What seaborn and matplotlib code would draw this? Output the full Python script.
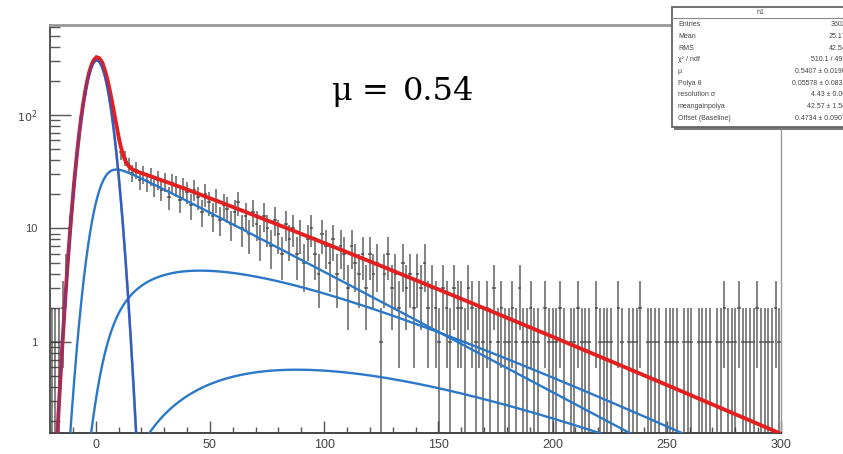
import math
import numpy as np
import pandas as pd
import matplotlib
matplotlib.use("Agg")
import matplotlib.pyplot as plt
import matplotlib.ticker as mticker
from matplotlib.patches import Rectangle
import seaborn as sns

# ---- histogram: 200 bins of width 1.6 from -20 to 300 ----
bin_lo, bin_hi, n_bins = -20.0, 300.0, 200
counts = [
    1, 1, 1, 2, 4, 10, 25, 50, 95, 152,
    223, 283, 318, 310, 282, 213, 152, 101, 70, 47,
    42, 36, 31, 33, 27, 30, 26, 29, 24, 27,
    22, 26, 19, 25, 24, 18, 23, 21, 16, 22,
    19, 14, 20, 17, 13, 18, 12, 16, 15, 11,
    14, 17, 10, 13, 9, 14, 11, 8, 13, 10,
    7, 12, 9, 6, 11, 8, 10, 6, 9, 5,
    8, 10, 6, 4, 9, 7, 5, 8, 4, 7,
    6, 3, 7, 5, 4, 6, 3, 6, 4, 5,
    1, 4, 6, 3, 4, 2, 5, 3, 4, 2,
    4, 3, 5, 2, 3, 2, 1, 3, 2, 1,
    3, 2, 2, 1, 3, 2, 1, 2, 1, 2,
    1, 3, 1, 2, 1, 1, 2, 1, 3, 1,
    1, 2, 1, 1, 0, 2, 1, 1, 1, 2,
    1, 0, 1, 1, 2, 1, 1, 1, 0, 2,
    1, 1, 1, 1, 0, 2, 1, 0, 1, 1,
    1, 2, 0, 1, 1, 1, 1, 0, 1, 1,
    1, 1, 0, 1, 1, 1, 0, 1, 1, 1,
    1, 0, 1, 1, 2, 1, 1, 1, 2, 1,
    1, 1, 1, 2, 1, 1, 1, 1, 2, 1,
]

# ---- fit parameters (single-photoelectron response) ----
fit_entries = 3602
fit_mu = 0.5407
fit_theta = 0.05578
fit_sigma = 4.43
fit_gain = 42.57
fit_offset = 0.4734

stat_labels = ["Entries", "Mean", "RMS", "\u03c7\u00b2 / ndf", "\u03bc", "Polya \u03b8",
               "resolution \u03c3", "meangainpolya", "Offset (Baseline)"]
stat_values = ["3602", "25.17", "42.54", "510.1 / 495", "0.5407 \u00b1 0.0190",
               "0.05578 \u00b1 0.0831", "4.43 \u00b1 0.06", "42.57 \u00b1 1.54",
               "0.4734 \u00b1 0.0907"]

x_ticks = [0, 50, 100, 150, 200, 250, 300]
y_ticks = [1, 10, 100]
y_tick_labels = ["1", "10", "$10^{2}$"]
annotation_parts = ["\u03bc", "=", "0.54"]

RED = "#e3201f"
BLUE = "#2b78c8"
PED = "#3a45b8"
HIST = "#3a3a3a"

# ---- build the fit curves ----
bw = (bin_hi - bin_lo) / n_bins
edges = np.linspace(bin_lo, bin_hi, n_bins + 1)
centers = 0.5 * (edges[:-1] + edges[1:])
cnt = np.asarray(counts, dtype=float)

du = 0.05
u = np.arange(-80.0, 420.0, du)
kern_u = np.arange(-30.0, 30.0 + du, du)
kernel = np.exp(-0.5 * (kern_u / fit_sigma) ** 2) / (fit_sigma * np.sqrt(2 * np.pi))


def poisson(n):
    return math.exp(-fit_mu) * fit_mu ** n / math.factorial(n)


def npe_shape(n, xs):
    """Polya (gamma) n-photoelectron term smeared by the resolution."""
    if n == 0:
        return np.exp(-0.5 * ((xs - fit_offset) / fit_sigma) ** 2) / (fit_sigma * np.sqrt(2 * np.pi))
    k = n * (1 + fit_theta)
    scale = fit_gain / (1 + fit_theta)
    g = np.zeros_like(u)
    pos = u > 0
    g[pos] = np.exp((k - 1) * np.log(u[pos]) - u[pos] / scale - math.lgamma(k) - k * math.log(scale))
    sm = np.convolve(g, kernel, mode="same") * du
    return np.interp(xs - fit_offset, u, sm)


xs = np.linspace(bin_lo, bin_hi, 1601)
comps = {n: fit_entries * bw * poisson(n) * npe_shape(n, xs) for n in range(0, 8)}
total = sum(comps.values())

rows = []
for name, yv in [("total", total), ("0", comps[0]), ("1", comps[1]), ("2", comps[2]), ("3", comps[3])]:
    yv = np.where(yv > 1e-9, yv, np.nan)
    rows.append(pd.DataFrame({"x": xs, "y": yv, "component": name}))
curves = pd.concat(rows, ignore_index=True)

# ---- figure ----
sns.set_theme(style="white")
plt.rcParams["font.family"] = ["Liberation Sans", "DejaVu Sans"]

fig = plt.figure(figsize=(8.43, 4.54), dpi=100)
ax = fig.add_axes([50 / 843, (454 - 433) / 454, (781 - 50) / 843, (433 - 25) / 454])
ax.set_yscale("log")
ax.set_xlim(bin_lo, bin_hi)
ax.set_ylim(0.158, 620)

# histogram drawn as error bars
m = cnt > 0
lo = np.maximum(cnt[m] - np.sqrt(cnt[m]), 1e-3)
hi = cnt[m] + np.sqrt(cnt[m])
ax.errorbar(centers[m], cnt[m], yerr=[cnt[m] - lo, hi - cnt[m]], xerr=bw / 2,
            fmt="none", ecolor=HIST, elinewidth=1.1, alpha=0.8, zorder=2)

# component curves; the pedestal is drawn solid under the total and
# again translucent above it, so the shared stretch reads as a blend
for comp in ["0", "1", "2", "3"]:
    sns.lineplot(data=curves[curves.component == comp], x="x", y="y", color=BLUE,
                 linewidth=1.7, ax=ax, zorder=3, estimator=None, sort=False)
sns.lineplot(data=curves[curves.component == "total"], x="x", y="y", color=RED,
             linewidth=2.8, ax=ax, zorder=4, estimator=None, sort=False)
sns.lineplot(data=curves[curves.component == "0"], x="x", y="y", color=PED,
             linewidth=1.9, alpha=0.55, ax=ax, zorder=5, estimator=None, sort=False)

ax.set_xlabel("")
ax.set_ylabel("")

# axis ticks, drawn inside the frame
ax.xaxis.set_major_locator(mticker.FixedLocator(x_ticks))
ax.xaxis.set_minor_locator(mticker.MultipleLocator(10))
ax.yaxis.set_major_locator(mticker.FixedLocator(y_ticks))
ax.yaxis.set_major_formatter(mticker.FixedFormatter(y_tick_labels))
ax.yaxis.set_minor_locator(mticker.LogLocator(base=10, subs=np.arange(2, 10)))
ax.yaxis.set_minor_formatter(mticker.NullFormatter())
ax.tick_params(axis="x", which="major", direction="in", length=9, width=1.0,
               color="#555555", labelsize=9, pad=4, labelcolor="#444444", bottom=True)
ax.tick_params(axis="x", which="minor", direction="in", length=4.5, width=1.0,
               color="#555555", bottom=True)
ax.tick_params(axis="y", which="major", direction="in", length=15, width=1.0,
               color="#555555", labelsize=8, pad=9, labelcolor="#444444", left=True)
ax.tick_params(axis="y", which="minor", direction="in", length=7.5, width=1.0,
               color="#555555", left=True)

for side, col, lw in [("left", "#555555", 1.4), ("bottom", "#444444", 1.4),
                      ("top", "#999999", 2.0), ("right", "#999999", 1.0)]:
    ax.spines[side].set_color(col)
    ax.spines[side].set_linewidth(lw)
    ax.spines[side].set_visible(True)

# annotation, set piece by piece for its wide spacing
for part, px in zip(annotation_parts, [332, 362, 403]):
    fig.text(px / 843, (454 - 100) / 454, part, family=["DejaVu Serif"],
             fontsize=23, color="black", va="baseline", ha="left")

# statistics box (runs past the right edge of the canvas)
bx0, bx1, by0, by1 = 672, 850, 7, 127
shadow = Rectangle((bx0 + 2, 454 - by1 - 3), bx1 - bx0, by1 - by0,
                   transform=None, facecolor="#777777", edgecolor="none", zorder=9)
box = Rectangle((bx0, 454 - by1), bx1 - bx0, by1 - by0, transform=None,
                facecolor="white", edgecolor="#666666", linewidth=1.3, zorder=10)
fig.add_artist(shadow)
fig.add_artist(box)
fig.add_artist(plt.Line2D([bx0 / 843, bx1 / 843], [(454 - 18) / 454] * 2,
                          transform=fig.transFigure, color="#888888", lw=0.8, zorder=11))
fig.text(760 / 843, (454 - 13) / 454, "h1", fontsize=5, color="#555555",
         ha="center", va="center", zorder=12)
row_y = np.linspace(25, 118, len(stat_labels))
for yy, lab, val in zip(row_y, stat_labels, stat_values):
    fig.text(678 / 843, (454 - yy) / 454, lab, fontsize=5, color="#444444",
             ha="left", va="center", zorder=12)
    fig.text(846 / 843, (454 - yy) / 454, val, fontsize=5, color="#444444",
             ha="right", va="center", zorder=12)

fig.savefig("out.png", dpi=100)
